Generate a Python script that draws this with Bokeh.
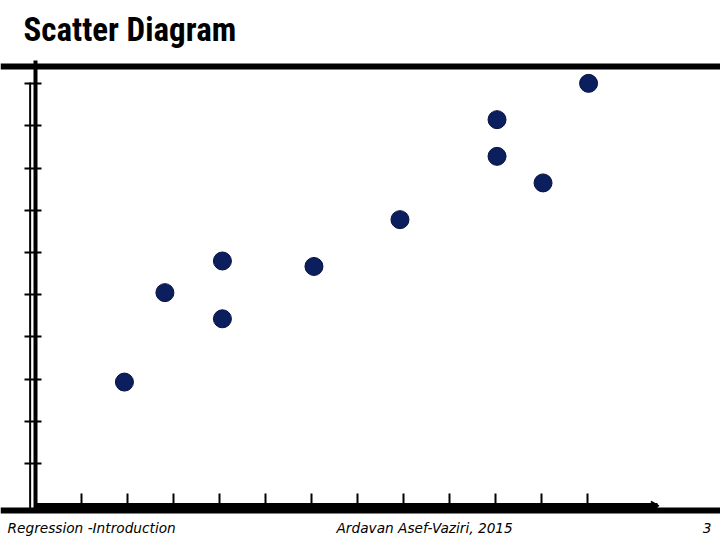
import numpy as np
from bokeh.plotting import figure
from bokeh.models import LinearAxis, FixedTicker, Span, Label, Range1d
from bokeh.embed import file_html
from bokeh.resources import INLINE

# ---- data ----
title_text = "Scatter Diagram"
footer_left = "Regression -Introduction"
footer_mid = "Ardavan Asef-Vaziri, 2015"
page_number = "3"

x_values = [1.94, 2.82, 4.07, 4.07, 6.06, 7.93, 10.04, 10.04, 11.04, 12.03]
y_values = [2.93, 5.05, 5.80, 4.43, 5.67, 6.78, 9.15, 8.28, 7.65, 10.01]
x_ticks = list(range(1, 13))
y_ticks = list(range(1, 11))

W, H = 720, 540
p = figure(width=W, height=H, output_backend="svg", toolbar_location=None,
           x_range=Range1d(-0.7543, 14.898), y_range=Range1d(-0.825, 11.974),
           x_axis_type=None, y_axis_type=None, min_border=0, title=None)
p.outline_line_color = None
p.background_fill_color = "white"
p.border_fill_color = "white"

# slide rules (top and bottom bars)
p.add_layout(Span(location=10.41, dimension="width", line_color="black", line_width=6))
p.add_layout(Span(location=-0.114, dimension="width", line_color="black", line_width=6))

# thin line parallel to the y axis
p.segment(x0=[-0.11], y0=[-0.1], x1=[-0.11], y1=[10.03], line_color="black", line_width=2)

# axes (tick labels are blank in the reference)
yax = LinearAxis(fixed_location=0, ticker=FixedTicker(ticks=y_ticks), bounds=(-0.12, 10.55),
                 axis_line_width=4, axis_line_color="black",
                 major_tick_in=6, major_tick_out=11, major_tick_line_width=2,
                 major_tick_line_color="black", minor_tick_line_color=None,
                 major_label_overrides={t: "" for t in y_ticks})
p.add_layout(yax, "left")

xax = LinearAxis(fixed_location=0, ticker=FixedTicker(ticks=x_ticks), bounds=(0, 13.53),
                 axis_line_width=5, axis_line_color="black",
                 major_tick_in=12, major_tick_out=0, major_tick_line_width=2,
                 major_tick_line_color="black", minor_tick_line_color=None,
                 major_label_overrides={t: "" for t in x_ticks})
p.add_layout(xax, "below")

# arrow head at end of x axis
p.scatter(x=[13.45], y=[0.0], marker="triangle", angle=-np.pi / 2, size=9,
          fill_color="black", line_color="black")

# data points
p.scatter(x_values, y_values, size=18, fill_color="#0b1f5f", line_color="#06123d", line_width=1)

# texts
p.add_layout(Label(x=-0.254, y=11.287, text=title_text,
                   text_font="'Roboto Condensed', 'Liberation Sans Narrow', 'DejaVu Sans Condensed', Roboto, sans-serif",
                   text_font_style="bold", text_font_size="33px", text_color="black",
                   text_baseline="alphabetic"))
foot_font = "'DejaVu Sans', Verdana, sans-serif"
p.add_layout(Label(x=-0.602, y=-0.54, text=footer_left, text_font=foot_font,
                   text_font_style="italic", text_font_size="13.7px", text_color="black",
                   text_baseline="alphabetic"))
p.add_layout(Label(x=6.55, y=-0.54, text=footer_mid, text_font=foot_font,
                   text_font_style="italic", text_font_size="13.7px", text_color="black",
                   text_baseline="alphabetic"))
p.add_layout(Label(x=14.70, y=-0.54, text=page_number, text_font=foot_font,
                   text_font_style="italic", text_font_size="13.7px", text_color="black",
                   text_baseline="alphabetic", text_align="right"))

open("out.html", "w").write(file_html(p, INLINE))
